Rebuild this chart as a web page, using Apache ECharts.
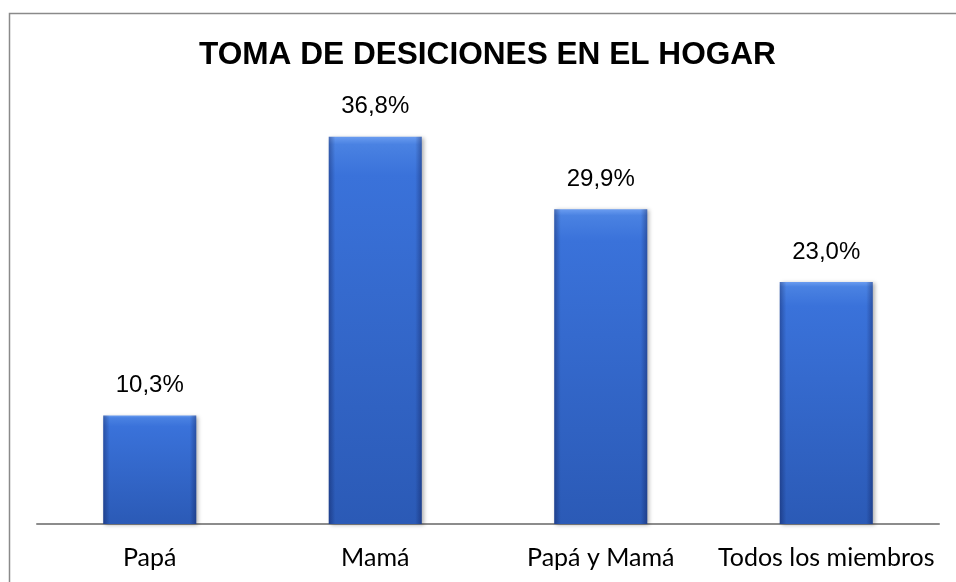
<!DOCTYPE html>
<html><head><meta charset="utf-8">
<script src="https://cdn.jsdelivr.net/npm/echarts@6/dist/echarts.min.js"></script>
<style>html,body{margin:0;padding:0;background:#fff}#c{width:956px;height:582px}</style>
</head><body><div id="c"></div>
<script>
const titleText = 'TOMA DE DESICIONES EN EL HOGAR';
const categories = ['Papá', 'Mamá', 'Papá y Mamá', 'Todos los miembros'];
const values = [10.3, 36.8, 29.9, 23.0];

const chart = echarts.init(document.getElementById('c'));
const fmt = p => p.value.toFixed(1).replace('.', ',') + '%';
chart.setOption({
  animation: false,
  backgroundColor: '#fff',
  graphic: [{
    type: 'rect', silent: true, z: 0,
    shape: { x: 9.5, y: 13.5, width: 1000, height: 620 },
    style: { fill: 'none', stroke: '#8a8a8a', lineWidth: 1.5 }
  }],
  title: {
    text: titleText, left: 199, top: 39, padding: 0,
    textStyle: { fontFamily: 'Liberation Sans, Arial', fontWeight: 'bold', fontSize: 31.6, color: '#000' }
  },
  grid: { left: 37, right: 17, top: 103, bottom: 58 },
  xAxis: {
    type: 'category', data: categories,
    axisLine: { lineStyle: { color: '#8c8c8c', width: 2 } },
    axisTick: { show: false },
    axisLabel: { fontFamily: 'Lato', fontSize: 25, color: '#000', margin: 21, interval: 0 }
  },
  yAxis: { type: 'value', min: 0, max: 40, show: false, splitLine: { show: false } },
  series: [{
    type: 'bar', data: values, barWidth: 93, z: 2,
    itemStyle: {
      color: new echarts.graphic.LinearGradient(0, 0, 0, 1, [
        { offset: 0, color: '#6a9cf0' },
        { offset: 0.02, color: '#4a82e2' },
        { offset: 0.1, color: '#3a72da' },
        { offset: 1, color: '#2b5ab6' }
      ]),
      shadowBlur: 4, shadowColor: 'rgba(0,0,0,0.3)', shadowOffsetX: 2, shadowOffsetY: 1
    },
    label: {
      show: true, position: 'top', distance: 18, formatter: fmt,
      fontFamily: 'Liberation Sans, Arial', fontSize: 24, color: '#000'
    }
  }, {
    type: 'bar', data: values, barWidth: 93, barGap: '-100%', z: 3, silent: true,
    itemStyle: {
      color: new echarts.graphic.LinearGradient(0, 0, 1, 0, [
        { offset: 0, color: 'rgba(0,0,40,0.30)' },
        { offset: 0.07, color: 'rgba(0,0,40,0)' },
        { offset: 0.93, color: 'rgba(0,0,40,0)' },
        { offset: 1, color: 'rgba(0,0,40,0.30)' }
      ])
    }
  }]
});
</script></body></html>
